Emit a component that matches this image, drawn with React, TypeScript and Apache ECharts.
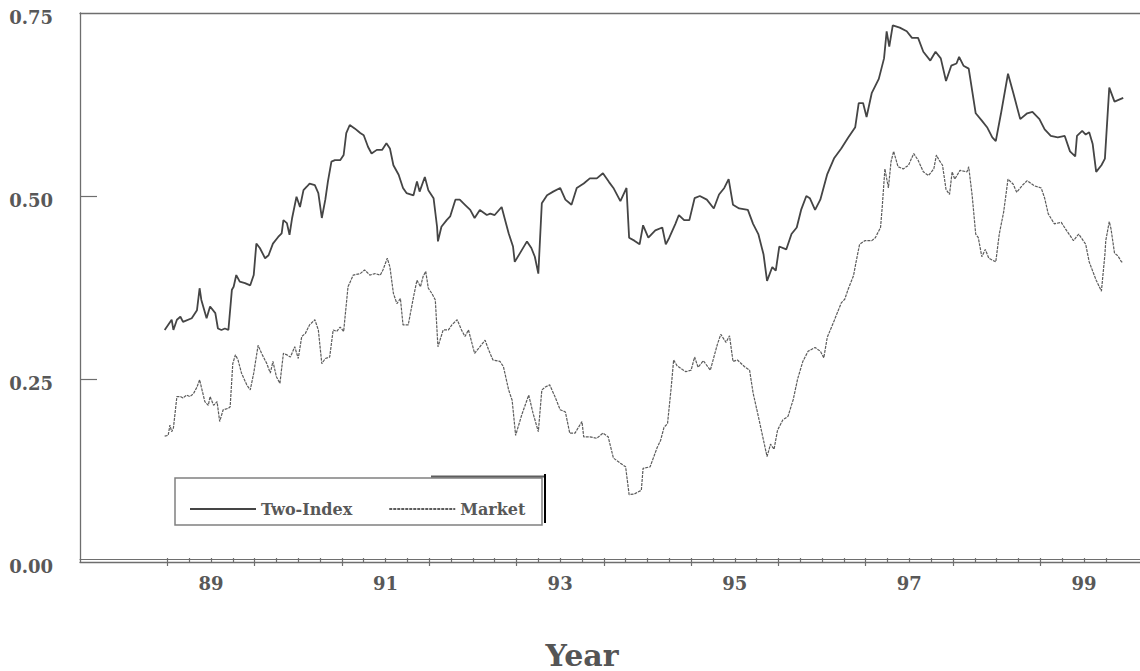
import React, { useEffect, useRef } from "react";
import * as echarts from "echarts";

// ---- Data ----
const twoIndexYears = [
  1988.97, 1989.05, 1989.07, 1989.11, 1989.15, 1989.18, 1989.28, 1989.34, 1989.37, 1989.39,
  1989.45, 1989.49, 1989.55, 1989.58, 1989.62, 1989.66, 1989.70, 1989.74, 1989.76, 1989.79,
  1989.83, 1989.89, 1989.95, 1989.99, 1990.02, 1990.06, 1990.12, 1990.16, 1990.21, 1990.27,
  1990.31, 1990.33, 1990.37, 1990.40, 1990.43, 1990.48, 1990.52, 1990.56, 1990.60, 1990.63,
  1990.69, 1990.73, 1990.77, 1990.81, 1990.84, 1990.88, 1990.92, 1990.98, 1991.02, 1991.05,
  1991.09, 1991.15, 1991.21, 1991.25, 1991.30, 1991.34, 1991.40, 1991.46, 1991.51, 1991.55,
  1991.59, 1991.65, 1991.70, 1991.74, 1991.82, 1991.86, 1991.89, 1991.95, 1991.99, 1992.05,
  1992.09, 1992.10, 1992.14, 1992.20, 1992.24, 1992.30, 1992.35, 1992.41, 1992.47, 1992.52,
  1992.58, 1992.66, 1992.70, 1992.75, 1992.83, 1992.87, 1992.91, 1992.96, 1992.98, 1993.04,
  1993.12, 1993.17, 1993.21, 1993.25, 1993.29, 1993.35, 1993.42, 1993.50, 1993.56, 1993.63,
  1993.69, 1993.77, 1993.84, 1993.92, 1993.99, 1994.06, 1994.11, 1994.19, 1994.26, 1994.29,
  1994.35, 1994.41, 1994.45, 1994.51, 1994.59, 1994.67, 1994.71, 1994.75, 1994.82, 1994.86,
  1994.92, 1994.98, 1995.04, 1995.10, 1995.18, 1995.26, 1995.32, 1995.38, 1995.43, 1995.48,
  1995.55, 1995.65, 1995.71, 1995.77, 1995.83, 1995.87, 1995.93, 1995.97, 1996.01, 1996.09,
  1996.15, 1996.21, 1996.26, 1996.32, 1996.36, 1996.42, 1996.48, 1996.56, 1996.64, 1996.72,
  1996.80, 1996.88, 1996.92, 1996.97, 1997.01, 1997.07, 1997.15, 1997.21, 1997.24, 1997.27,
  1997.31, 1997.39, 1997.47, 1997.53, 1997.60, 1997.66, 1997.74, 1997.80, 1997.86, 1997.92,
  1997.98, 1998.04, 1998.07, 1998.12, 1998.18, 1998.26, 1998.33, 1998.39, 1998.45, 1998.49,
  1998.55, 1998.63, 1998.69, 1998.77, 1998.85, 1998.91, 1998.99, 1999.05, 1999.12, 1999.20,
  1999.28, 1999.34, 1999.40, 1999.42, 1999.48, 1999.52, 1999.56, 1999.60, 1999.64, 1999.70,
  1999.74, 1999.79, 1999.85, 1999.89, 1999.95,
];
const twoIndexValues = [
  0.317, 0.331, 0.317, 0.331, 0.335, 0.328, 0.333, 0.344, 0.374, 0.358,
  0.333, 0.349, 0.340, 0.319, 0.317, 0.319, 0.317, 0.372, 0.376, 0.392,
  0.383, 0.381, 0.378, 0.392, 0.435, 0.429, 0.415, 0.419, 0.435, 0.444,
  0.449, 0.467, 0.463, 0.447, 0.470, 0.499, 0.485, 0.508, 0.513, 0.517,
  0.515, 0.504, 0.470, 0.495, 0.520, 0.547, 0.549, 0.549, 0.556, 0.586,
  0.597, 0.592, 0.586, 0.583, 0.567, 0.558, 0.563, 0.563, 0.572, 0.565,
  0.542, 0.529, 0.511, 0.504, 0.501, 0.520, 0.506, 0.526, 0.508, 0.497,
  0.458, 0.438, 0.458, 0.467, 0.472, 0.495, 0.495, 0.488, 0.481, 0.470,
  0.481, 0.474, 0.476, 0.474, 0.485, 0.467, 0.449, 0.431, 0.410, 0.422,
  0.438, 0.429, 0.417, 0.394, 0.490, 0.501, 0.506, 0.511, 0.495, 0.488,
  0.511, 0.517, 0.524, 0.524, 0.531, 0.519, 0.511, 0.493, 0.511, 0.443,
  0.439, 0.434, 0.460, 0.443, 0.453, 0.457, 0.434, 0.443, 0.462, 0.474,
  0.467, 0.467, 0.497, 0.500, 0.495, 0.483, 0.502, 0.511, 0.523, 0.488,
  0.483, 0.481, 0.462, 0.448, 0.420, 0.384, 0.403, 0.398, 0.431, 0.427,
  0.448, 0.457, 0.481, 0.500, 0.497, 0.481, 0.495, 0.530, 0.552, 0.565,
  0.580, 0.594, 0.627, 0.627, 0.608, 0.641, 0.660, 0.688, 0.725, 0.704,
  0.733, 0.730, 0.725, 0.716, 0.716, 0.697, 0.685, 0.697, 0.688, 0.657,
  0.678, 0.681, 0.690, 0.678, 0.674, 0.613, 0.603, 0.594, 0.580, 0.575,
  0.613, 0.667, 0.641, 0.605, 0.613, 0.615, 0.605, 0.591, 0.582, 0.580,
  0.582, 0.561, 0.554, 0.582, 0.589, 0.584, 0.587, 0.571, 0.533, 0.542,
  0.551, 0.648, 0.629, 0.631, 0.634,
];

const marketYears = [
  1988.97, 1989.01, 1989.03, 1989.05, 1989.07, 1989.11, 1989.15, 1989.18, 1989.22, 1989.26,
  1989.30, 1989.34, 1989.37, 1989.39, 1989.43, 1989.47, 1989.49, 1989.53, 1989.57, 1989.60,
  1989.64, 1989.70, 1989.72, 1989.75, 1989.78, 1989.81, 1989.85, 1989.91, 1989.95, 1989.99,
  1990.04, 1990.08, 1990.14, 1990.18, 1990.21, 1990.25, 1990.29, 1990.33, 1990.37, 1990.41,
  1990.46, 1990.50, 1990.54, 1990.58, 1990.63, 1990.69, 1990.73, 1990.77, 1990.81, 1990.86,
  1990.90, 1990.94, 1990.98, 1991.02, 1991.07, 1991.13, 1991.21, 1991.26, 1991.32, 1991.38,
  1991.44, 1991.47, 1991.52, 1991.55, 1991.59, 1991.63, 1991.67, 1991.70, 1991.76, 1991.82,
  1991.86, 1991.90, 1991.93, 1991.96, 1991.99, 1992.03, 1992.07, 1992.10, 1992.16, 1992.22,
  1992.26, 1992.32, 1992.37, 1992.41, 1992.45, 1992.52, 1992.58, 1992.64, 1992.68, 1992.73,
  1992.81, 1992.85, 1992.91, 1992.95, 1992.99, 1993.06, 1993.14, 1993.19, 1993.25, 1993.29,
  1993.33, 1993.38, 1993.44, 1993.50, 1993.56, 1993.61, 1993.67, 1993.75, 1993.77, 1993.84,
  1993.92, 1993.99, 1994.05, 1994.11, 1994.19, 1994.25, 1994.29, 1994.35, 1994.43, 1994.45,
  1994.53, 1994.61, 1994.65, 1994.69, 1994.73, 1994.77, 1994.80, 1994.84, 1994.90, 1994.94,
  1995.00, 1995.04, 1995.08, 1995.14, 1995.22, 1995.30, 1995.34, 1995.40, 1995.44, 1995.48,
  1995.53, 1995.61, 1995.67, 1995.71, 1995.77, 1995.83, 1995.87, 1995.91, 1995.95, 1995.99,
  1996.05, 1996.11, 1996.17, 1996.22, 1996.28, 1996.34, 1996.42, 1996.48, 1996.52, 1996.56,
  1996.64, 1996.72, 1996.76, 1996.80, 1996.86, 1996.89, 1996.93, 1996.99, 1997.07, 1997.11,
  1997.17, 1997.19, 1997.22, 1997.26, 1997.29, 1997.32, 1997.37, 1997.43, 1997.49, 1997.55,
  1997.60, 1997.66, 1997.72, 1997.78, 1997.81, 1997.84, 1997.88, 1997.92, 1997.96, 1997.99,
  1998.02, 1998.08, 1998.16, 1998.18, 1998.22, 1998.26, 1998.29, 1998.33, 1998.37, 1998.41,
  1998.49, 1998.53, 1998.58, 1998.63, 1998.69, 1998.73, 1998.79, 1998.85, 1998.93, 1999.01,
  1999.05, 1999.09, 1999.16, 1999.24, 1999.30, 1999.38, 1999.44, 1999.52, 1999.56, 1999.64,
  1999.70, 1999.74, 1999.75, 1999.79, 1999.81, 1999.85, 1999.89, 1999.93, 1999.95,
];
const marketValues = [
  0.172, 0.173, 0.187, 0.178, 0.183, 0.226, 0.226, 0.224, 0.228, 0.226,
  0.230, 0.239, 0.249, 0.239, 0.219, 0.214, 0.226, 0.214, 0.219, 0.192,
  0.208, 0.210, 0.212, 0.271, 0.283, 0.276, 0.258, 0.242, 0.235, 0.258,
  0.296, 0.285, 0.271, 0.258, 0.274, 0.253, 0.244, 0.285, 0.283, 0.280,
  0.294, 0.278, 0.308, 0.312, 0.324, 0.331, 0.317, 0.271, 0.278, 0.280,
  0.317, 0.315, 0.321, 0.315, 0.376, 0.392, 0.394, 0.399, 0.392, 0.394,
  0.392, 0.399, 0.415, 0.403, 0.367, 0.353, 0.360, 0.324, 0.324, 0.362,
  0.385, 0.376, 0.390, 0.397, 0.374, 0.367, 0.358, 0.294, 0.317, 0.317,
  0.324, 0.331, 0.317, 0.308, 0.317, 0.285, 0.294, 0.303, 0.290, 0.276,
  0.274, 0.267, 0.235, 0.221, 0.173, 0.201, 0.228, 0.203, 0.178, 0.235,
  0.239, 0.242, 0.226, 0.208, 0.205, 0.176, 0.176, 0.192, 0.171, 0.171,
  0.169, 0.176, 0.171, 0.142, 0.135, 0.130, 0.092, 0.093, 0.098, 0.128,
  0.130, 0.156, 0.166, 0.184, 0.189, 0.236, 0.276, 0.268, 0.263, 0.260,
  0.262, 0.280, 0.266, 0.275, 0.262, 0.297, 0.311, 0.300, 0.309, 0.274,
  0.276, 0.267, 0.262, 0.231, 0.199, 0.166, 0.144, 0.161, 0.154, 0.180,
  0.194, 0.199, 0.222, 0.250, 0.274, 0.288, 0.293, 0.288, 0.279, 0.307,
  0.330, 0.354, 0.359, 0.373, 0.391, 0.410, 0.434, 0.439, 0.439, 0.443,
  0.457, 0.486, 0.537, 0.511, 0.547, 0.561, 0.540, 0.537, 0.542, 0.558,
  0.549, 0.533, 0.528, 0.537, 0.556, 0.549, 0.542, 0.509, 0.502, 0.533,
  0.523, 0.535, 0.533, 0.540, 0.500, 0.448, 0.443, 0.417, 0.427, 0.415,
  0.410, 0.448, 0.478, 0.523, 0.516, 0.505, 0.514, 0.521, 0.514, 0.511,
  0.497, 0.476, 0.462, 0.464, 0.453, 0.439, 0.448, 0.434, 0.410, 0.385,
  0.370, 0.420, 0.439, 0.465, 0.455, 0.422, 0.418, 0.410, 0.410,
];

const seriesNames = ["Two-Index", "Market"];
const yTickLabels = [0, 0.25, 0.5, 0.75];
const yInnerTicks = [0.25, 0.5];
const yearLabelPositions = [1989.5, 1991.5, 1993.5, 1995.5, 1997.5, 1999.5];
const yearLabels = ["89", "91", "93", "95", "97", "99"];
const majorYearTicks = [1989, 1990, 1991, 1992, 1993, 1994, 1995, 1996, 1997, 1998, 1999];
const quarterTicks: number[] = [];
for (let y = 1989; y <= 1999.76; y += 0.25) quarterTicks.push(Math.round(y * 100) / 100);

const X_MIN = 1988;
const X_MAX = 2000.142;
const FONT = "'DejaVu Serif', 'Liberation Serif', serif";
const AXIS_COLOR = "#6e6e6e";
const TEXT_COLOR = "#585858";

export default function App() {
  const ref = useRef<HTMLDivElement>(null);

  useEffect(() => {
    if (!ref.current) return;
    const chart = echarts.init(ref.current, null, { renderer: "svg" });

    const baseX = {
      type: "value" as const,
      min: X_MIN,
      max: X_MAX,
      splitLine: { show: false },
      axisLabel: { show: false },
      axisTick: { show: false },
      axisLine: { show: false },
    };

    const option: any = {
      animation: false,
      backgroundColor: "#ffffff",
      grid: { left: 80, top: 13, right: 0, height: 549, containLabel: false },
      xAxis: [
        {
          ...baseX,
          position: "bottom",
          axisLine: { show: true, onZero: false, lineStyle: { color: AXIS_COLOR, width: 1.3 } },
          axisTick: {
            show: true,
            inside: true,
            length: 4,
            customValues: quarterTicks,
            lineStyle: { color: AXIS_COLOR, width: 1.2 },
          },
          axisLabel: {
            show: true,
            customValues: yearLabelPositions,
            formatter: (v: number) => {
              const i = yearLabelPositions.findIndex((p) => Math.abs(p - v) < 1e-6);
              return i >= 0 ? yearLabels[i] : "";
            },
            margin: 12,
            fontFamily: FONT,
            fontSize: 18,
            fontWeight: "bold",
            color: TEXT_COLOR,
          },
        },
        {
          ...baseX,
          position: "bottom",
          axisTick: {
            show: true,
            inside: false,
            length: 4,
            customValues: majorYearTicks,
            lineStyle: { color: AXIS_COLOR, width: 1.2 },
          },
        },
        {
          ...baseX,
          position: "bottom",
          offset: -3,
          axisLine: { show: true, onZero: false, lineStyle: { color: AXIS_COLOR, width: 1.1 } },
        },
        {
          ...baseX,
          position: "top",
          axisLine: { show: true, onZero: false, lineStyle: { color: AXIS_COLOR, width: 1.3 } },
        },
      ],
      yAxis: {
        type: "value",
        min: 0,
        max: 0.75,
        interval: 0.25,
        splitLine: { show: false },
        axisLine: { show: true, lineStyle: { color: AXIS_COLOR, width: 1.3 } },
        axisTick: {
          show: true,
          inside: true,
          length: 17,
          customValues: yInnerTicks,
          lineStyle: { color: AXIS_COLOR, width: 1.2 },
        },
        axisLabel: {
          customValues: yTickLabels,
          formatter: (v: number) => "{v|" + v.toFixed(2) + "}",
          margin: 27,
          rich: {
            v: {
              fontFamily: FONT,
              fontSize: 18,
              fontWeight: "bold",
              color: TEXT_COLOR,
              padding: [8, 0, 0, 0],
            },
          },
        },
      },
      legend: {
        left: 184,
        top: 496,
        itemWidth: 66,
        itemHeight: 14,
        itemGap: 36,
        data: seriesNames,
        itemStyle: { opacity: 0 },
        textStyle: { fontFamily: FONT, fontSize: 16, fontWeight: "bold", color: TEXT_COLOR },
      },
      graphic: [
        {
          type: "rect",
          shape: { x: 175, y: 478, width: 367, height: 47 },
          style: { fill: "none", stroke: "#808080", lineWidth: 1.5 },
          silent: true,
        },
        {
          type: "line",
          shape: { x1: 431, y1: 476.5, x2: 545, y2: 476.5 },
          style: { stroke: "#5e5e5e", lineWidth: 2 },
          silent: true,
        },
        {
          type: "line",
          shape: { x1: 545, y1: 474, x2: 545, y2: 523 },
          style: { stroke: "#000000", lineWidth: 2 },
          silent: true,
        },
        {
          type: "text",
          x: 582,
          y: 655,
          style: {
            text: "Year",
            fontFamily: FONT,
            fontSize: 30,
            fontWeight: "bold",
            fill: "#555555",
            align: "center",
            verticalAlign: "middle",
          },
          silent: true,
        },
      ],
      series: [
        {
          name: seriesNames[0],
          type: "line",
          xAxisIndex: 0,
          symbol: "none",
          showSymbol: false,
          data: twoIndexYears.map((x, i) => [x, twoIndexValues[i]]),
          lineStyle: { color: "#454545", width: 1.8 },
          itemStyle: { color: "#454545" },
        },
        {
          name: seriesNames[1],
          type: "line",
          xAxisIndex: 0,
          symbol: "none",
          showSymbol: false,
          data: marketYears.map((x, i) => [x, marketValues[i]]),
          lineStyle: { color: "#5c5c5c", width: 1.2, type: [3, 1] },
          itemStyle: { color: "#5c5c5c" },
        },
      ],
    };

    chart.setOption(option);
    return () => chart.dispose();
  }, []);

  return (
    <div
      ref={ref}
      style={{ position: "absolute", left: 0, top: 0, width: 1140, height: 671, background: "#fff" }}
    />
  );
}
